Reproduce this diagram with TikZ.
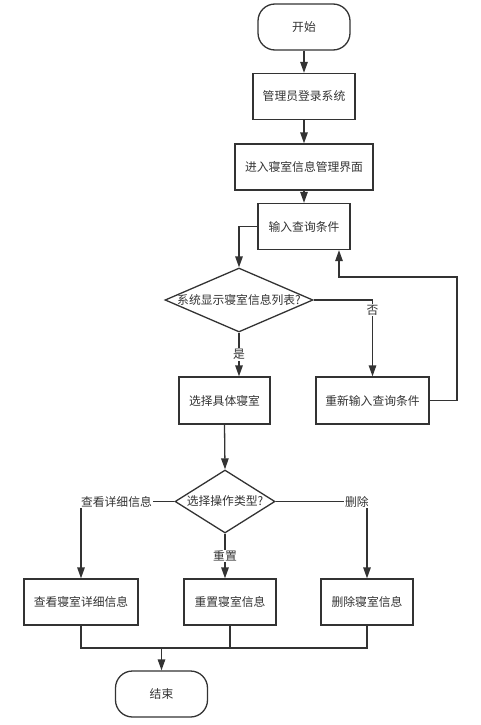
\documentclass[tikz,border=0pt]{standalone}
\usepackage{fontspec}
\setmainfont{Noto Sans CJK SC}
\usetikzlibrary{shapes.geometric,arrows.meta,calc}
\definecolor{ink}{HTML}{333333}
\newcommand{\fsz}{\fontsize{11.8}{14}\selectfont}
\tikzset{
  base/.style={draw=ink,line width=1.3pt,text=ink,font=\fsz,inner sep=0pt},
  box/.style={base,rectangle,minimum height=46pt},
  term/.style={base,rectangle,rounded corners=17pt,minimum width=92pt,minimum height=46pt},
  dia/.style={base,diamond},
  conn/.style={draw=ink,line width=1.3pt},
  arr/.style={conn,-{Triangle[length=11pt,width=7.5pt]}},
  lbl/.style={fill=white,text=ink,font=\fsz,inner sep=1pt}
}
\begin{document}
\begin{tikzpicture}[x=1pt,y=-1pt]
\useasboundingbox (0,0) rectangle (480,725);
\node[term] (start) at (304,27) {开始};
\node[box,minimum width=102pt] (b1) at (304,96.5) {管理员登录系统};
\node[box,minimum width=138pt] (b2) at (304,167) {进入寝室信息管理界面};
\node[box,minimum width=92pt] (b3) at (304,226.5) {输入查询条件};
\node[dia,minimum width=148pt,minimum height=64pt,label={center:\textcolor{ink}{\fsz 系统显示寝室信息列表?}}] (d1) at (239,300) {};
\node[box,minimum width=91pt,minimum height=47pt] (sel) at (224.5,400.5) {选择具体寝室};
\node[box,minimum width=113pt,minimum height=47pt] (redo) at (372.5,400.5) {重新输入查询条件};
\node[dia,minimum width=100pt,minimum height=63pt,label={center:\textcolor{ink}{\fsz 选择操作类型?}}] (d2) at (225,501.5) {};
\node[box,minimum width=114pt] (view) at (81,602) {查看寝室详细信息};
\node[box,minimum width=92pt] (reset) at (230,602) {重置寝室信息};
\node[box,minimum width=92pt] (del) at (367,602) {删除寝室信息};
\node[term] (end) at (161.5,694) {结束};
\coordinate (loop) at (457,277);
\coordinate (m) at (161.5,648);

\draw[arr] (start) -- (b1);
\draw[arr] (b1) -- (b2);
\draw[arr] (b2) -- (b3);
\draw[arr] (b3.west) -| (d1.north);
\draw[arr] (d1.south) -- node[lbl] {是} (d1.south |- sel.north);
\draw[arr] (d1.east) -| node[lbl,pos=0.565] {否} (redo.north);
\draw[arr] (redo.east) -| (loop) -| ([xshift=35pt]b3.south);
\draw[arr] (sel.south) -- (d2.north);
\draw[arr] (d2.west) -| node[lbl,pos=0.31] {查看详细信息} (view.north);
\draw[arr] (d2.south) -- node[lbl] {重置} (d2.south |- reset.north);
\draw[arr] (d2.east) -| node[lbl,pos=0.445] {删除} (del.north);
\draw[conn] (view.south) |- (m);
\draw[conn] (reset.south) |- (m);
\draw[conn] (del.south) |- (m);
\draw[arr] (m) -- (end);
\end{tikzpicture}
\end{document}
